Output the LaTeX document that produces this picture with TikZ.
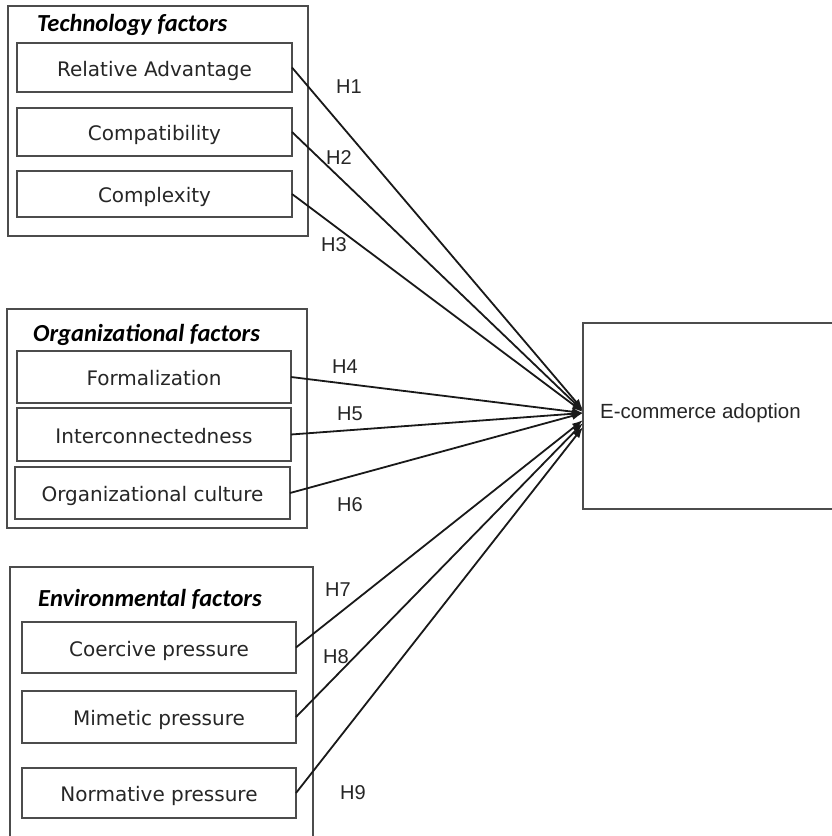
\documentclass[tikz,border=0pt]{standalone}
\usepackage{fontspec}
\setmainfont{DejaVu Sans}
\newfontfamily\titlefont{Carlito}
\newfontfamily\arialfont{Liberation Sans}
\usetikzlibrary{arrows.meta}
\begin{document}
\begin{tikzpicture}[x=1pt,y=-1pt,
  grp/.style={draw=black!70, line width=1.3pt, inner sep=0pt, outer sep=0pt},
  inbox/.style={draw=black!70, line width=1.3pt, inner sep=0pt, outer sep=0pt, text=black!85,
    text height=18pt, text depth=1pt, font=\fontsize{20}{23}\selectfont},
  ttl/.style={font=\titlefont\bfseries\itshape\fontsize{24.5}{28}\selectfont, anchor=base west, inner sep=0pt},
  hl/.style={font=\arialfont\fontsize{20}{24}\selectfont, text=black!85},
  arr/.style={line width=1.8pt, draw=black!90, -{Latex[length=11pt,width=8pt]}}]
\useasboundingbox[fill=white] (0,0) rectangle (831,836);

% Technology factors
\node[grp, minimum width=300pt, minimum height=230pt] (tech) at (158,121) {};
\node[ttl] (ttech) at (37,31) {Technology factors};
\node[inbox, minimum width=275pt, minimum height=49pt] (ra) at (154.5,67.5) {Relative Advantage};
\node[inbox, minimum width=275pt, minimum height=48pt] (comp) at (154.5,132) {Compatibility};
\node[inbox, minimum width=275pt, minimum height=46pt] (cplx) at (154.5,194) {Complexity};

% Organizational factors
\node[grp, minimum width=300pt, minimum height=219pt] (org) at (157,418.5) {};
\node[ttl] (torg) at (33,341) {Organizational factors};
\node[inbox, minimum width=274pt, minimum height=52pt] (form) at (154,377) {Formalization};
\node[inbox, minimum width=274pt, minimum height=53pt] (inter) at (154,434.5) {Interconnectedness};
\node[inbox, minimum width=275pt, minimum height=52pt] (cult) at (152.5,493) {Organizational culture};

% Environmental factors
\node[grp, minimum width=303pt, minimum height=280pt] (env) at (161.5,707) {};
\node[ttl] (tenv) at (38,606) {Environmental factors};
\node[inbox, minimum width=274pt, minimum height=51pt] (coer) at (159,647.5) {Coercive pressure};
\node[inbox, minimum width=274pt, minimum height=52pt] (mim) at (159,717) {Mimetic pressure};
\node[inbox, minimum width=274pt, minimum height=50pt] (norm) at (159,793) {Normative pressure};

% E-commerce adoption
\node[grp, minimum width=260pt, minimum height=186pt, anchor=north west] (eca) at (583,323) {};
\node[hl, font=\arialfont\fontsize{20.5}{24}\selectfont, anchor=west, inner sep=0pt] (ecat) at (600,413) {E-commerce adoption};

% arrow targets
\coordinate (t1) at (583,410);
\coordinate (t2) at (583,411);
\coordinate (t3) at (583,412);
\coordinate (t4) at (583,413);
\coordinate (t5) at (583,413);
\coordinate (t6) at (583,413);
\coordinate (t7) at (583,420);
\coordinate (t8) at (583,423);
\coordinate (t9) at (583,427);

\draw[arr] (ra.east) -- (t1);
\draw[arr] (comp.east) -- (t2);
\draw[arr] (cplx.east) -- (t3);
\draw[arr] (form.east) -- (t4);
\draw[arr] (inter.east) -- (t5);
\draw[arr] (cult.east) -- (t6);
\draw[arr] (coer.east) -- (t7);
\draw[arr] (mim.east) -- (t8);
\draw[arr] (norm.east) -- (t9);

% labels
\node[hl] (h1) at (349,87) {H1};
\node[hl] (h2) at (339,158) {H2};
\node[hl] (h3) at (334,245) {H3};
\node[hl] (h4) at (345,367) {H4};
\node[hl] (h5) at (350,414) {H5};
\node[hl] (h6) at (350,505) {H6};
\node[hl] (h7) at (338,590) {H7};
\node[hl] (h8) at (336,657) {H8};
\node[hl] (h9) at (353,793) {H9};
\end{tikzpicture}
\end{document}
